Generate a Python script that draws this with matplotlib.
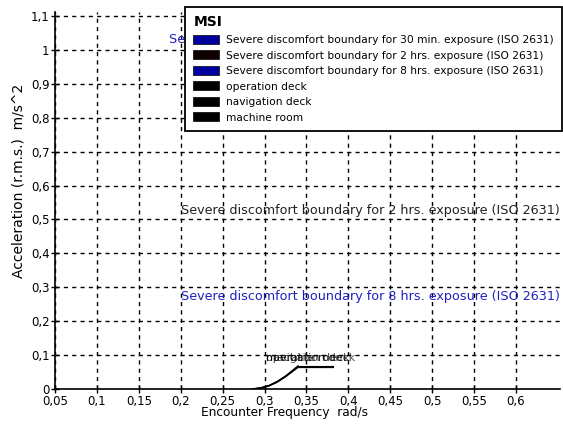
import numpy as np
import matplotlib.pyplot as plt
from matplotlib.patches import Patch
from matplotlib.ticker import FuncFormatter

plt.rcParams['font.family'] = ['DejaVu Sans']
plt.rcParams['font.size'] = 8.5

# encounter frequency (rad/s) and rms acceleration (m/s^2) for each location
freq = [0.285, 0.295, 0.305, 0.315, 0.325, 0.333, 0.340]
operation_deck = [0.0, 0.003, 0.010, 0.022, 0.038, 0.054, 0.068]
navigation_deck = [0.0, 0.003, 0.009, 0.021, 0.037, 0.052, 0.066]
machine_room = [0.0, 0.002, 0.009, 0.020, 0.036, 0.051, 0.064]
location_names = ['operation deck', 'navigation deck', 'machine room']

# ISO 2631 severe discomfort boundaries (label positions only, curves lie off the axis range)
iso_names = ['Severe discomfort boundary for 30 min. exposure (ISO 2631)',
             'Severe discomfort boundary for 2 hrs. exposure (ISO 2631)',
             'Severe discomfort boundary for 8 hrs. exposure (ISO 2631)']
iso_label_y = [1.03, 0.528, 0.274]
iso_colors = ['#2020c0', '#202020', '#2020c0']
iso_patch_colors = ['#0000a0', '#100000', '#0000a0']

x_ticks = [0.05, 0.1, 0.15, 0.2, 0.25, 0.3, 0.35, 0.4, 0.45, 0.5, 0.55, 0.6]
y_ticks = [0, 0.1, 0.2, 0.3, 0.4, 0.5, 0.6, 0.7, 0.8, 0.9, 1.0, 1.1]

fig = plt.figure(figsize=(5.63, 4.25), dpi=100)
ax = fig.add_axes([0.0977, 0.0847, 0.897, 0.887])

ax.set_xlim(0.05, 0.6526)
ax.set_ylim(0, 1.112)

for ys in (operation_deck, navigation_deck, machine_room):
    ax.plot(freq, ys, color='black', lw=1.0)
    # leader line from curve end to label
    ax.plot([freq[-1], 0.382], [ys[-1], ys[-1]], color='black', lw=0.8)

for name in location_names:
    ax.text(0.302, 0.092, name, fontsize=8, va='center', ha='left', color='black', alpha=0.7)

for name, y, c in zip(iso_names, iso_label_y, iso_colors):
    ax.text(0.6526, y, name, color=c, ha='right', va='center', fontsize=9.2)

ax.set_xticks(x_ticks)
ax.set_yticks(y_ticks)
fmt = FuncFormatter(lambda v, p: ('%g' % round(v, 3)).replace('.', ','))
ax.xaxis.set_major_formatter(fmt)
ax.yaxis.set_major_formatter(fmt)
ax.tick_params(direction='inout', length=6, width=1, pad=1, labelsize=8.5)
ax.grid(True, color='black', linestyle=(0, (3, 3)), lw=1)

for s in ('top', 'right'):
    ax.spines[s].set_visible(False)
ax.spines['left'].set_linewidth(1.2)
ax.spines['bottom'].set_linewidth(1.2)

fig.text(0.506, 0.030, 'Encounter Frequency  rad/s', ha='center', va='center', fontsize=8.7)
fig.text(0.032, 0.574, 'Acceleration (r.m.s.)  m/s^2', rotation=90,
         ha='center', va='center', fontsize=10)

handles = [Patch(facecolor=c, edgecolor='black', lw=0.5) for c in iso_patch_colors]
handles += [Patch(facecolor='black', edgecolor='black', lw=0.5) for _ in location_names]
leg = ax.legend(handles, iso_names + location_names, title='MSI', loc='upper right',
                bbox_to_anchor=(1.003, 1.013), fontsize=7.7, frameon=True, fancybox=False,
                edgecolor='black', framealpha=1, handlelength=2.4, handleheight=0.9,
                handletextpad=0.6, labelspacing=0.5, borderpad=0.6, borderaxespad=0,
                alignment='left')
leg.get_title().set_fontweight('bold')
leg.get_title().set_fontsize(10)
leg.get_frame().set_linewidth(1.3)
leg._legend_box.sep = 4
# extra right-hand padding as in the original legend box
leg._legend_box.pad = 6

fig.savefig('out.png', dpi=100)
